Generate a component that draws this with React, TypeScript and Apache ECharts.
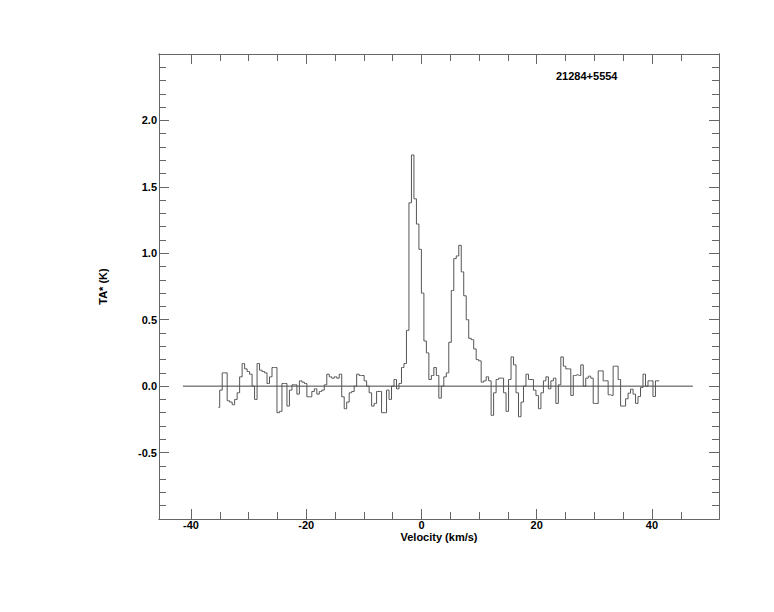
import React, { useEffect, useRef } from "react";
import * as echarts from "echarts";

// Spectrum channel grid (km/s)
const V_START = -35.23;
const CHANNEL_WIDTH = 0.4321;

// Antenna temperature TA* (K), channel by channel
const TA_LEFT = [
  -0.16, -0.03, 0.10, 0.10, -0.11, -0.12, -0.14, -0.10, -0.05, 0.07,
  0.17, 0.13, 0.11, 0.09, 0.00, -0.10, 0.17, 0.12, 0.11, 0.10,
  0.02, 0.07, 0.14, 0.14, -0.20, -0.19, 0.02, 0.02, -0.15, -0.03,
  0.01, 0.01, -0.06, 0.04, 0.03, 0.02, -0.08, -0.08, -0.04, -0.02,
  -0.06, -0.04, -0.03, 0.01, 0.09, 0.07, 0.06, 0.07, 0.06, 0.09,
  -0.08, -0.17, -0.12, -0.05, -0.04, 0.00, 0.09, 0.08, 0.08, 0.04,
  0.00, -0.05, -0.15, -0.13, -0.04, -0.04, -0.20, -0.20, -0.03, -0.10,
  0.00,
];
const TA_LINES = [
  0.05, -0.02, 0.02, 0.14, 0.17, 0.42, 1.38, 1.74, 1.41, 1.22,
  1.03, 0.70, 0.34, 0.25, 0.05, 0.08, 0.14, 0.08, -0.09, 0.00,
  0.07, 0.10, 0.33, 0.72, 0.96, 0.98, 1.06, 0.86, 0.68, 0.50,
  0.36, 0.35, 0.28, 0.20, 0.19, 0.03, 0.04, 0.07, 0.04, -0.22,
  -0.05,
];
const TA_RIGHT = [
  0.05, 0.06, 0.06, -0.05, -0.19, 0.05, 0.22, 0.16, -0.05, -0.23,
  -0.12, 0.00, 0.09, 0.05, 0.05, -0.03, -0.07, -0.17, -0.05, 0.04,
  0.07, -0.02, 0.04, 0.06, -0.13, 0.01, 0.22, 0.15, 0.13, 0.13,
  -0.07, 0.08, 0.085, 0.08, 0.16, 0.00, 0.06, 0.075, 0.06, -0.13,
  -0.13, 0.115, 0.115, 0.04, 0.04, -0.065, -0.07, 0.15, 0.15, 0.05,
  -0.15, -0.15, -0.095, -0.053, -0.023, -0.06, -0.13, -0.078, -0.01, 0.09,
  0.00, 0.04, 0.04, -0.078, 0.04, 0.04,
];

const BASELINE_X = [-41.4, 47.1];

const X_MIN = -45.55;
const X_MAX = 51.63;
const Y_MIN = -1.0;
const Y_MAX = 2.5;

const X_MAJOR = [-40, -20, 0, 20, 40];
const X_MINOR = [-35, -30, -25, -15, -10, -5, 5, 10, 15, 25, 30, 35, 45];
const Y_MAJOR = [-0.5, 0.0, 0.5, 1.0, 1.5, 2.0];
const Y_MINOR = [
  -0.9, -0.8, -0.7, -0.6, -0.4, -0.3, -0.2, -0.1, 0.1, 0.2, 0.3, 0.4,
  0.6, 0.7, 0.8, 0.9, 1.1, 1.2, 1.3, 1.4, 1.6, 1.7, 1.8, 1.9, 2.1, 2.2, 2.3, 2.4,
];

const SOURCE_NAME = "21284+5554";
const X_TITLE = "Velocity (km/s)";
const Y_TITLE = "TA* (K)";

const AXIS_COLOR = "#666";
const FONT = "Liberation Sans, Arial, Helvetica, sans-serif";

export default function App() {
  const ref = useRef<HTMLDivElement>(null);

  useEffect(() => {
    if (!ref.current) return;
    const chart = echarts.init(ref.current, null, { renderer: "svg" });

    const ta = [...TA_LEFT, ...TA_LINES, ...TA_RIGHT];
    const spectrum = ta.map((t, i) => [V_START + i * CHANNEL_WIDTH, t]);

    const gridRect = { left: 159, top: 54, right: 55, bottom: 93 };
    const axisLine = {
      show: true,
      onZero: false,
      lineStyle: { color: AXIS_COLOR, width: 1 },
    };
    const labelStyle = {
      color: "#000",
      fontFamily: FONT,
      fontWeight: "bold" as const,
      fontSize: 11,
    };

    const xAxisDef = (
      gridIndex: number,
      position: "top" | "bottom",
      ticks: number[],
      len: number,
      labels: boolean
    ) => ({
      type: "value",
      gridIndex,
      position,
      min: X_MIN,
      max: X_MAX,
      axisLine,
      splitLine: { show: false },
      axisTick: {
        show: true,
        inside: true,
        length: len,
        customValues: ticks,
        lineStyle: { color: AXIS_COLOR, width: 1 },
      },
      axisLabel: labels
        ? { show: true, customValues: ticks, margin: 0, ...labelStyle }
        : { show: false },
      ...(labels
        ? {
            name: X_TITLE,
            nameLocation: "middle",
            nameGap: 12,
            nameMoveOverlap: false,
            nameTextStyle: labelStyle,
          }
        : {}),
    });

    const yAxisDef = (
      gridIndex: number,
      position: "left" | "right",
      ticks: number[],
      len: number,
      labels: boolean
    ) => ({
      type: "value",
      gridIndex,
      position,
      min: Y_MIN,
      max: Y_MAX,
      axisLine,
      splitLine: { show: false },
      axisTick: {
        show: true,
        inside: true,
        length: len,
        customValues: ticks,
        lineStyle: { color: AXIS_COLOR, width: 1 },
      },
      axisLabel: labels
        ? {
            show: true,
            customValues: ticks,
            margin: 2,
            formatter: (v: number) => v.toFixed(1),
            ...labelStyle,
          }
        : { show: false },
      ...(labels
        ? {
            name: Y_TITLE,
            nameLocation: "middle",
            nameRotate: 90,
            nameGap: 51,
            nameMoveOverlap: false,
            nameTextStyle: labelStyle,
          }
        : {}),
    });

    chart.setOption({
      animation: false,
      backgroundColor: "#fff",
      grid: [
        { ...gridRect, containLabel: false },
        { ...gridRect, containLabel: false },
      ],
      xAxis: [
        xAxisDef(0, "bottom", X_MAJOR, 10, true),
        xAxisDef(0, "top", X_MAJOR, 10, false),
        xAxisDef(1, "bottom", X_MINOR, 7, false),
        xAxisDef(1, "top", X_MINOR, 7, false),
      ],
      yAxis: [
        yAxisDef(0, "left", Y_MAJOR, 10, true),
        yAxisDef(0, "right", Y_MAJOR, 10, false),
        yAxisDef(1, "left", Y_MINOR, 7, false),
        yAxisDef(1, "right", Y_MINOR, 7, false),
      ],
      graphic: [
        {
          type: "text",
          left: 556,
          top: 70,
          style: {
            text: SOURCE_NAME,
            fill: "#000",
            font: `bold 11px ${FONT}`,
          },
        },
      ],
      series: [
        {
          type: "line",
          xAxisIndex: 0,
          yAxisIndex: 0,
          data: BASELINE_X.map((x) => [x, 0]),
          symbol: "none",
          lineStyle: { color: "#444", width: 1 },
          silent: true,
        },
        {
          type: "line",
          xAxisIndex: 0,
          yAxisIndex: 0,
          data: spectrum,
          step: "middle",
          symbol: "none",
          lineStyle: { color: "#555", width: 1 },
          silent: true,
        },
      ],
    });

    return () => chart.dispose();
  }, []);

  return (
    <div
      ref={ref}
      style={{ position: "fixed", left: 0, top: 0, width: 774, height: 612 }}
    />
  );
}
